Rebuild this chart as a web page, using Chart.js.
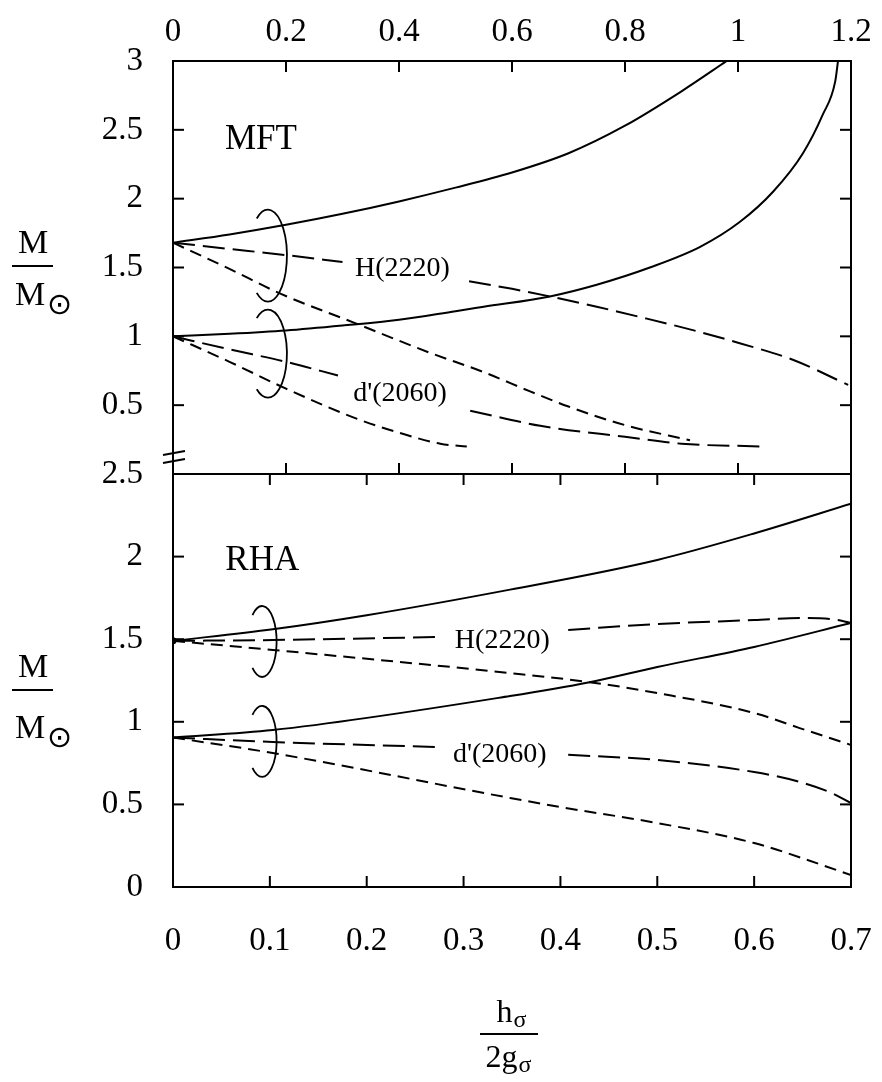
<!DOCTYPE html>
<html>
<head>
<meta charset="utf-8">
<script src="https://cdn.jsdelivr.net/npm/chart.js@4.4.0/dist/chart.umd.min.js"></script>
<style>
  html, body { margin: 0; padding: 0; background: #fff; }
</style>
</head>
<body>
<canvas id="massChart" width="882" height="1082"></canvas>
<script>
Chart.defaults.font.family = '"Liberation Serif", "Times New Roman", serif';
Chart.defaults.color = '#000';

// MFT panel, x read on the upper axis (0 - 1.2)
const mftHSolidX = [0, 0.1, 0.2, 0.3, 0.4, 0.5, 0.6, 0.7, 0.8, 0.9, 0.98];
const mftHSolidY = [1.68, 1.74, 1.81, 1.89, 1.98, 2.08, 2.19, 2.33, 2.53, 2.78, 3.0];
const mftHLongX = [0, 0.1, 0.2, 0.3, 0.41, 0.524, 0.6, 0.667, 0.75, 0.827, 0.92, 1.003, 1.097, 1.195];
const mftHLongY = [1.68, 1.635, 1.59, 1.54, null, 1.40, 1.345, 1.29, 1.215, 1.14, 1.045, 0.95, 0.83, 0.647];
const mftHShortX = [0, 0.1, 0.19, 0.32, 0.455, 0.55, 0.632, 0.7, 0.8, 0.915];
const mftHShortY = [1.68, 1.49, 1.31, 1.10, 0.88, 0.74, 0.60, 0.49, 0.355, 0.245];
const mftDSolidX = [0, 0.1, 0.2, 0.3, 0.4, 0.5, 0.55, 0.667, 0.75, 0.844, 0.933, 1.003, 1.062, 1.115, 1.15, 1.172, 1.177];
const mftDSolidY = [1.0, 1.018, 1.042, 1.078, 1.12, 1.183, 1.215, 1.29, 1.375, 1.50, 1.65, 1.83, 2.05, 2.33, 2.61, 2.85, 3.0];
const mftDLongX = [0, 0.1, 0.2, 0.292, 0.41, 0.526, 0.65, 0.8, 0.9, 1.04];
const mftDLongY = [1.0, 0.905, 0.815, 0.715, null, 0.46, 0.35, 0.27, 0.22, 0.20];
const mftDShortX = [0, 0.1, 0.2, 0.326, 0.4, 0.473, 0.52];
const mftDShortY = [1.0, 0.815, 0.62, 0.40, 0.30, 0.22, 0.20];

// RHA panel, x read on the lower axis (0 - 0.7)
const rhaHSolidX = [0, 0.103, 0.2, 0.348, 0.5, 0.6, 0.7];
const rhaHSolidY = [1.49, 1.56, 1.645, 1.80, 1.98, 2.14, 2.32];
const rhaHLongX = [0, 0.103, 0.272, 0.34, 0.408, 0.5, 0.6, 0.647, 0.68, 0.7];
const rhaHLongY = [1.49, 1.495, 1.513, null, 1.556, 1.592, 1.616, 1.628, 1.622, 1.598];
const rhaHShortX = [0, 0.103, 0.348, 0.43, 0.5, 0.6, 0.647, 0.7];
const rhaHShortY = [1.49, 1.435, 1.295, 1.24, 1.174, 1.053, 0.962, 0.86];
const rhaDSolidX = [0, 0.103, 0.348, 0.43, 0.5, 0.6, 0.7];
const rhaDSolidY = [0.905, 0.95, 1.156, 1.24, 1.332, 1.453, 1.598];
const rhaDLongX = [0, 0.103, 0.272, 0.34, 0.408, 0.5, 0.6, 0.647, 0.68, 0.7];
const rhaDLongY = [0.905, 0.878, 0.847, null, 0.80, 0.769, 0.696, 0.636, 0.569, 0.508];
const rhaDShortX = [0, 0.103, 0.348, 0.4, 0.5, 0.6, 0.7];
const rhaDShortY = [0.905, 0.811, 0.539, 0.484, 0.387, 0.266, 0.073];

const topTicksX = [0, 0.2, 0.4, 0.6, 0.8, 1, 1.2];
const bottomTicksX = [0, 0.1, 0.2, 0.3, 0.4, 0.5, 0.6, 0.7];

const series = [
  { xs: mftHSolidX, ys: mftHSolidY, panel: 'top', line: 'solid' },
  { xs: mftHLongX, ys: mftHLongY, panel: 'top', line: 'long' },
  { xs: mftHShortX, ys: mftHShortY, panel: 'top', line: 'short' },
  { xs: mftDSolidX, ys: mftDSolidY, panel: 'top', line: 'solid' },
  { xs: mftDLongX, ys: mftDLongY, panel: 'top', line: 'long' },
  { xs: mftDShortX, ys: mftDShortY, panel: 'top', line: 'short' },
  { xs: rhaHSolidX, ys: rhaHSolidY, panel: 'bottom', line: 'solid', dot: true },
  { xs: rhaHLongX, ys: rhaHLongY, panel: 'bottom', line: 'long' },
  { xs: rhaHShortX, ys: rhaHShortY, panel: 'bottom', line: 'short' },
  { xs: rhaDSolidX, ys: rhaDSolidY, panel: 'bottom', line: 'solid' },
  { xs: rhaDLongX, ys: rhaDLongY, panel: 'bottom', line: 'long' },
  { xs: rhaDShortX, ys: rhaDShortY, panel: 'bottom', line: 'short' },
];

// text and bracket annotations, placed in data units of their panel
const curveLabels = [
  { text: 'MFT', panel: 'top', x: 0.092, y: 2.36, size: 35 },
  { text: 'H(2220)', panel: 'top', x: 0.322, y: 1.44, size: 28 },
  { text: "d'(2060)", panel: 'top', x: 0.319, y: 0.53, size: 28 },
  { text: 'RHA', panel: 'bottom', x: 0.054, y: 1.92, size: 35 },
  { text: 'H(2220)', panel: 'bottom', x: 0.291, y: 1.447, size: 28 },
  { text: "d'(2060)", panel: 'bottom', x: 0.289, y: 0.757, size: 28 },
];
const brackets = [
  { panel: 'top', x: 0.168, y: 1.586, rx: 19, ry: 46, a: 2.2 },
  { panel: 'top', x: 0.168, y: 0.874, rx: 19, ry: 44, a: 2.2 },
  { panel: 'bottom', x: 0.092, y: 1.486, rx: 14.5, ry: 35.5, a: 2.3 },
  { panel: 'bottom', x: 0.092, y: 0.881, rx: 14.5, ry: 35.5, a: 2.3 },
];

const dashes = { solid: [], long: [22, 8], short: [12, 7] };
const FONT = '"Liberation Serif", "Times New Roman", serif';

function fmt(v) {
  return String(+Number(v).toFixed(2));
}

function fixBox(w, h) {
  return s => {
    if (w) s.width = w;
    if (h) s.height = h;
    s.paddingLeft = 0; s.paddingRight = 0; s.paddingTop = 0; s.paddingBottom = 0;
  };
}

const datasets = series.map(s => ({
  data: s.xs.map((x, i) => ({ x: x, y: s.ys[i] })),
  xAxisID: s.panel === 'top' ? 'xTop' : 'xBot',
  yAxisID: s.panel === 'top' ? 'yTop' : 'yBot',
  showLine: true,
  borderColor: '#000',
  borderWidth: 2,
  borderDash: dashes[s.line],
  pointRadius: s.dot ? (c => c.dataIndex === 0 ? 3.5 : 0) : 0,
  pointBackgroundColor: '#000',
  pointBorderWidth: 0,
  spanGaps: false,
  cubicInterpolationMode: 'monotone',
}));

const panelDecor = {
  id: 'panelDecor',
  afterDraw(chart) {
    const { ctx, chartArea: a } = chart;
    const xt = chart.scales.xTop, xb = chart.scales.xBot;
    const yt = chart.scales.yTop, yb = chart.scales.yBot;
    const mid = yt.bottom;
    const T = 11;
    const seg = (x1, y1, x2, y2) => {
      ctx.beginPath(); ctx.moveTo(x1, y1); ctx.lineTo(x2, y2); ctx.stroke();
    };
    ctx.save();
    ctx.strokeStyle = '#000';
    ctx.fillStyle = '#000';
    ctx.lineWidth = 2;
    ctx.setLineDash([]);

    // frame, inner ticks
    ctx.strokeRect(a.left, a.top, a.right - a.left, a.bottom - a.top);
    seg(a.left, mid, a.right, mid);
    yt.ticks.forEach(t => {
      if (t.value <= yt.min || t.value >= yt.max) return;
      const p = yt.getPixelForValue(t.value);
      seg(a.left, p, a.left + T, p); seg(a.right, p, a.right - T, p);
    });
    yb.ticks.forEach(t => {
      if (t.value <= yb.min || t.value >= yb.max) return;
      const p = yb.getPixelForValue(t.value);
      seg(a.left, p, a.left + T, p); seg(a.right, p, a.right - T, p);
    });
    xt.ticks.forEach(t => {
      if (t.value <= xt.min || t.value >= xt.max) return;
      const p = xt.getPixelForValue(t.value);
      seg(p, a.top, p, a.top + T); seg(p, mid, p, mid - T);
    });
    xb.ticks.forEach(t => {
      if (t.value <= xb.min || t.value >= xb.max) return;
      const p = xb.getPixelForValue(t.value);
      seg(p, mid, p, mid + T); seg(p, a.bottom, p, a.bottom - T);
    });

    // axis break marks
    seg(a.left - 10, mid - 19, a.left + 12, mid - 23);
    seg(a.left - 10, mid - 11, a.left + 12, mid - 15);

    // brackets
    ctx.lineWidth = 1.8;
    brackets.forEach(b => {
      const sx = b.panel === 'top' ? xt : xb, sy = b.panel === 'top' ? yt : yb;
      ctx.beginPath();
      ctx.ellipse(sx.getPixelForValue(b.x), sy.getPixelForValue(b.y), b.rx, b.ry, 0, -b.a, b.a);
      ctx.stroke();
    });

    // curve labels
    ctx.textAlign = 'left';
    ctx.textBaseline = 'alphabetic';
    curveLabels.forEach(l => {
      const sx = l.panel === 'top' ? xt : xb, sy = l.panel === 'top' ? yt : yb;
      ctx.font = l.size + 'px ' + FONT;
      ctx.fillText(l.text, sx.getPixelForValue(l.x), sy.getPixelForValue(l.y));
    });

    // y titles  M / M(sun)
    ctx.lineWidth = 2;
    [[253, 266, 305], [677, 690, 738]].forEach(([up, bar, low]) => {
      ctx.font = '34px ' + FONT;
      ctx.textAlign = 'center';
      ctx.fillText('M', 33, up);
      seg(12, bar, 53, bar);
      ctx.textAlign = 'left';
      ctx.fillText('M', 15, low);
      ctx.font = '30px "DejaVu Sans"';
      ctx.fillText('\u2299', 47, low + 9);
    });

    // x title  h_sigma / 2g_sigma
    const sub = (base, s, cx, y) => {
      ctx.font = '32px ' + FONT;
      const w1 = ctx.measureText(base).width;
      ctx.font = '24px ' + FONT;
      const w2 = ctx.measureText(s).width;
      const x0 = cx - (w1 + w2) / 2;
      ctx.textAlign = 'left';
      ctx.font = '32px ' + FONT;
      ctx.fillText(base, x0, y);
      ctx.font = '24px ' + FONT;
      ctx.fillText(s, x0 + w1 + 1, y + 5);
    };
    sub('h', '\u03c3', 511, 1022);
    seg(480, 1034, 538, 1034);
    sub('2g', '\u03c3', 508, 1067);
    ctx.restore();
  }
};

const tickFont = { size: 33, lineHeight: 1 };

new Chart(document.getElementById('massChart'), {
  type: 'scatter',
  data: { datasets: datasets },
  plugins: [panelDecor],
  options: {
    responsive: false,
    animation: false,
    layout: { padding: { left: 0, right: 31, top: 0, bottom: 0 } },
    plugins: {
      legend: { display: false },
      tooltip: { enabled: false },
    },
    scales: {
      xTop: {
        type: 'linear', position: 'top', min: 0, max: 1.2,
        afterBuildTicks: s => { s.ticks = topTicksX.map(v => ({ value: v })); },
        ticks: { font: tickFont, padding: 12, maxRotation: 0, autoSkip: false, callback: fmt },
        grid: { display: false, drawTicks: false },
        border: { display: false },
        afterFit: fixBox(0, 61),
      },
      xBot: {
        type: 'linear', position: 'bottom', min: 0, max: 0.7,
        afterBuildTicks: s => { s.ticks = bottomTicksX.map(v => ({ value: v })); },
        ticks: { font: tickFont, padding: 38, maxRotation: 0, autoSkip: false, callback: fmt },
        grid: { display: false, drawTicks: false },
        border: { display: false },
        afterFit: fixBox(0, 195),
      },
      yBot: {
        type: 'linear', position: 'left', stack: 'mass', stackWeight: 1, weight: 0,
        min: 0, max: 2.5,
        ticks: { font: tickFont, padding: 30, stepSize: 0.5, callback: fmt },
        grid: { display: false, drawTicks: false },
        border: { display: false },
        afterFit: fixBox(173, 0),
      },
      yTop: {
        type: 'linear', position: 'left', stack: 'mass', stackWeight: 1, weight: 1,
        min: 0, max: 3,
        ticks: { font: tickFont, padding: 30, stepSize: 0.5, callback: v => v === 0 ? '' : fmt(v) },
        grid: { display: false, drawTicks: false },
        border: { display: false },
        afterFit: fixBox(173, 0),
      },
    },
  },
});
</script>
</body>
</html>
